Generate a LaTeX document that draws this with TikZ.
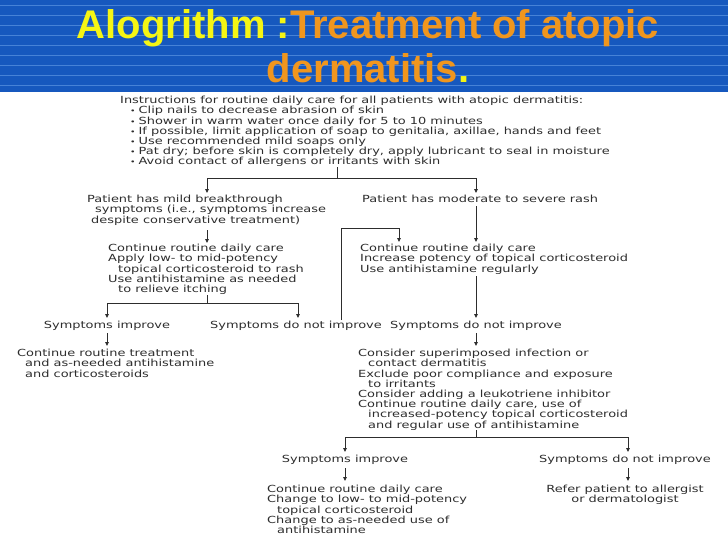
\documentclass[tikz,border=0pt]{standalone}
\usepackage{fontspec}
\setmainfont{DejaVu Sans}
\newfontfamily\bodyfont[FakeStretch=1.32]{DejaVu Sans}
\newfontfamily\titlefont{Liberation Sans}
\usetikzlibrary{arrows.meta}
\definecolor{bgblue}{RGB}{22,88,190}
\definecolor{stripe}{RGB}{70,130,215}
\definecolor{ttyellow}{RGB}{245,245,20}
\definecolor{ttorange}{RGB}{240,150,30}
\definecolor{ink}{RGB}{45,45,45}
\tikzset{
  txt/.style={anchor=north west,align=left,inner sep=0pt,text=ink,font=\bodyfont\fontsize{9.8}{10.2}\selectfont},
  ctxt/.style={anchor=north,align=center,inner sep=0pt,text=ink,font=\bodyfont\fontsize{9.8}{10.2}\selectfont},
  conn/.style={draw=ink,line width=0.9pt},
  arr/.style={conn,-{Triangle[length=4pt,width=3.5pt]}},
  ttl/.style={inner sep=0pt,font=\titlefont\bfseries\fontsize{40}{40}\selectfont}
}
\newcommand{\ind}{\hspace*{10pt}}
\newcommand{\bul}{{\fontsize{7}{7}\selectfont\textbullet}\hspace{3pt}}
\begin{document}
\begin{tikzpicture}[x=1pt,y=-1pt]
\useasboundingbox (0,0) rectangle (728,546);
\fill[white] (0,0) rectangle (728,546);
\fill[bgblue] (0,0) rectangle (728,92);
\foreach \y in {5,15,...,90} \draw[stripe,line width=0.6pt] (0,\y) -- (728,\y);
% title
\node[ttl,anchor=base] (t1) at (368,38) {\textcolor{ttyellow}{Alogrithm :}\textcolor{ttorange}{Treatment of atopic}};
\node[ttl,anchor=base] (t2) at (368,82) {\textcolor{ttorange}{dermatitis}\textcolor{ttyellow}{.}};
% instructions
\node[txt] (ins) at (120,96) {Instructions for routine daily care for all patients with atopic dermatitis:\\
\ind\bul Clip nails to decrease abrasion of skin\\
\ind\bul Shower in warm water once daily for 5 to 10 minutes\\
\ind\bul If possible, limit application of soap to genitalia, axillae, hands and feet\\
\ind\bul Use recommended mild soaps only\\
\ind\bul Pat dry; before skin is completely dry, apply lubricant to seal in moisture\\
\ind\bul Avoid contact of allergens or irritants with skin};
\node[txt] (mild) at (87,195) {Patient has mild breakthrough\\
\hspace*{8pt}symptoms (i.e., symptoms increase\\
\hspace*{4pt}despite conservative treatment)};
\node[txt] (mod) at (362,195) {Patient has moderate to severe rash};
\node[txt] (cl) at (108,244) {Continue routine daily care\\Apply low- to mid-potency\\\ind topical corticosteroid to rash\\Use antihistamine as needed\\\ind to relieve itching};
\node[txt] (cr) at (360,244) {Continue routine daily care\\Increase potency of topical corticosteroid\\Use antihistamine regularly};
\node[ctxt] (si1) at (107,321) {Symptoms improve};
\node[ctxt] (sn1) at (296,321) {Symptoms do not improve};
\node[ctxt] (sn2) at (476,321) {Symptoms do not improve};
\node[txt] (ct) at (17,349) {Continue routine treatment\\\hspace*{8pt}and as-needed antihistamine\\\hspace*{8pt}and corticosteroids};
\node[txt] (cs) at (358,349) {Consider superimposed infection or\\\ind contact dermatitis\\Exclude poor compliance and exposure\\\ind to irritants\\Consider adding a leukotriene inhibitor\\Continue routine daily care, use of\\\ind increased-potency topical corticosteroid\\\ind and regular use of antihistamine};
\node[ctxt] (si2) at (345,455) {Symptoms improve};
\node[ctxt] (sn3) at (625,455) {Symptoms do not improve};
\node[txt] (cd) at (267,485) {Continue routine daily care\\Change to low- to mid-potency\\\ind topical corticosteroid\\Change to as-needed use of\\\ind antihistamine};
\node[ctxt] (ref) at (625,485) {Refer patient to allergist\\or dermatologist};
% connectors
\coordinate (j1) at (337,178);
\coordinate (j1t) at (337,167);
\draw[conn] (j1t) -- (j1);
\draw[arr] (j1) -| (207,193);
\draw[arr] (j1) -| (476,193);
\draw[arr] (207,230) -- (207,243);
\draw[arr] (476,206) -- (476,242);
\coordinate (j2) at (207,303);
\draw[conn] (207,295) -- (j2);
\draw[arr] (j2) -| (107,318);
\draw[arr] (j2) -| (298,318);
\draw[arr] (341,320) |- (399,228) -- (399,242);
\draw[arr] (476,276) -- (476,318);
\draw[arr] (107,333) -- (107,346);
\draw[arr] (476,333) -- (476,346);
\coordinate (j3) at (476,437);
\draw[conn] (476,430) -- (j3);
\draw[arr] (j3) -| (345,452);
\draw[arr] (j3) -| (628,452);
\draw[arr] (345,468) -- (345,481);
\draw[arr] (628,468) -- (628,481);
\end{tikzpicture}
\end{document}
